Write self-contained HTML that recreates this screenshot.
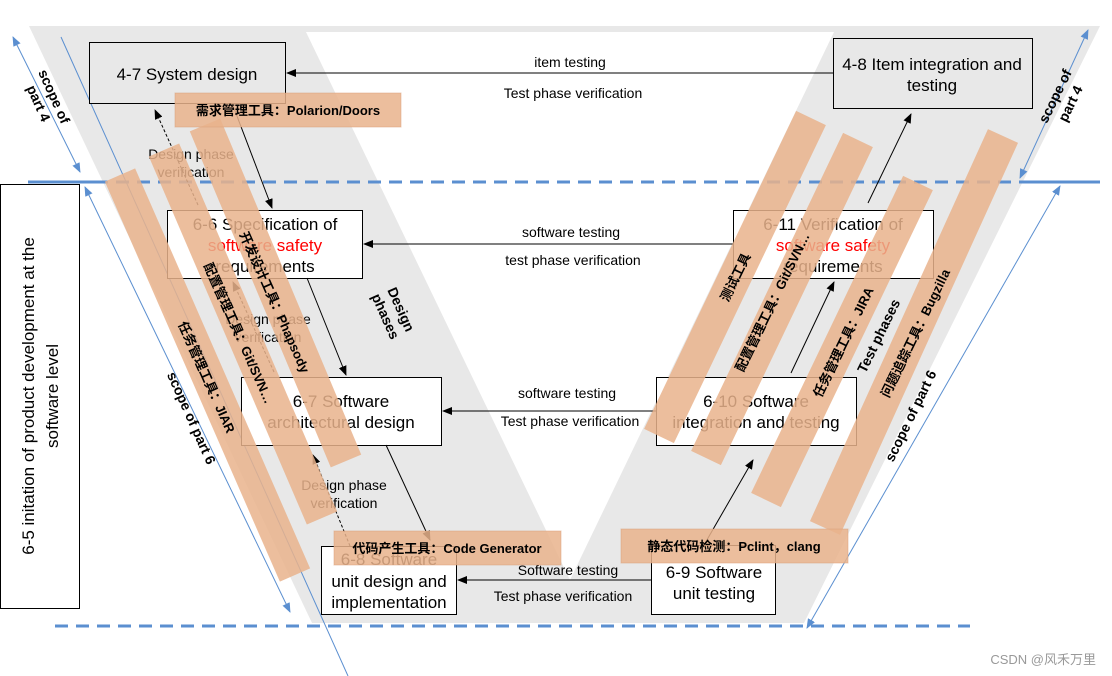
<!DOCTYPE html>
<html><head><meta charset="utf-8"><style>
html,body{margin:0;padding:0;background:#fff;width:1112px;height:676px;overflow:hidden}
svg{display:block;font-family:"Liberation Sans","Noto Sans CJK SC",sans-serif}
</style></head><body>
<svg width="1112" height="676" viewBox="0 0 1112 676" xmlns="http://www.w3.org/2000/svg">
<defs>
<marker id="ah" markerWidth="10" markerHeight="8" refX="9" refY="4" orient="auto" markerUnits="userSpaceOnUse"><path d="M0,0 L10,4 L0,8 z" fill="#000"/></marker>
<marker id="bh" markerWidth="10" markerHeight="8" refX="9" refY="4" orient="auto" markerUnits="userSpaceOnUse"><path d="M0,0 L10,4 L0,8 z" fill="#5b8fd0"/></marker>
<marker id="bs" markerWidth="10" markerHeight="8" refX="1" refY="4" orient="auto" markerUnits="userSpaceOnUse"><path d="M10,0 L0,4 L10,8 z" fill="#5b8fd0"/></marker>
</defs>
<path d="M29,26 L1100,26 L804,623 L312,623 Z M306,32 L834,32 L570,580 Z" fill="#e8e8e8" fill-rule="evenodd"/>
<line x1="28" y1="182" x2="95" y2="182" stroke="#5b8fd0" stroke-width="3"/>
<line x1="95" y1="182" x2="1020" y2="182" stroke="#5b8fd0" stroke-width="3" stroke-dasharray="13,8"/>
<line x1="1020" y1="182" x2="1100" y2="182" stroke="#5b8fd0" stroke-width="3"/>
<line x1="55" y1="626" x2="970" y2="626" stroke="#5b8fd0" stroke-width="3" stroke-dasharray="13,8"/>
<line x1="13" y1="37" x2="80" y2="172" stroke="#5b8fd0" stroke-width="1" marker-start="url(#bs)" marker-end="url(#bh)"/>
<line x1="61" y1="37" x2="348" y2="676" stroke="#5b8fd0" stroke-width="1"/>
<line x1="85" y1="187" x2="290" y2="612" stroke="#5b8fd0" stroke-width="1" marker-start="url(#bs)" marker-end="url(#bh)"/>
<line x1="1020" y1="178" x2="1088" y2="30" stroke="#5b8fd0" stroke-width="1" marker-start="url(#bs)" marker-end="url(#bh)"/>
<line x1="807" y1="628" x2="1060" y2="186" stroke="#5b8fd0" stroke-width="1" marker-start="url(#bs)" marker-end="url(#bh)"/>
<g fill="#fff" stroke="#000" stroke-width="1">
<rect x="89.5" y="42.5" width="196" height="61" fill="#e8e8e8"/>
<rect x="833.5" y="38.5" width="199" height="70" fill="#e8e8e8"/>
<rect x="167.5" y="210.5" width="195" height="68"/>
<rect x="733.5" y="210.5" width="200" height="68"/>
<rect x="241.5" y="377.5" width="200" height="68"/>
<rect x="656.5" y="377.5" width="200" height="68"/>
<rect x="321.5" y="546.5" width="135" height="68"/>
<rect x="651.5" y="545.5" width="124" height="69"/>
<rect x="0.5" y="184.5" width="79" height="424"/>
</g>
<g stroke="#000" stroke-width="1" fill="none">
<line x1="833" y1="73" x2="287" y2="73" marker-end="url(#ah)"/>
<line x1="733" y1="244" x2="364" y2="244" marker-end="url(#ah)"/>
<line x1="656" y1="411" x2="443" y2="411" marker-end="url(#ah)"/>
<line x1="651" y1="580" x2="458" y2="580" marker-end="url(#ah)"/>
<line x1="232" y1="103" x2="272" y2="208" marker-end="url(#ah)"/>
<line x1="307" y1="278" x2="346" y2="375" marker-end="url(#ah)"/>
<line x1="386" y1="445" x2="430" y2="540" marker-end="url(#ah)"/>
<line x1="704" y1="545" x2="753" y2="460" marker-end="url(#ah)"/>
<line x1="791" y1="373" x2="834" y2="282" marker-end="url(#ah)"/>
<line x1="868" y1="203" x2="911" y2="114" marker-end="url(#ah)"/>
<line x1="198" y1="205" x2="155" y2="110" stroke-dasharray="3,2" marker-end="url(#ah)"/>
<line x1="274" y1="372" x2="233" y2="282" stroke-dasharray="3,2" marker-end="url(#ah)"/>
<line x1="350" y1="546" x2="313" y2="455" stroke-dasharray="3,2" marker-end="url(#ah)"/>
</g>
<g font-size="17" fill="#000" text-anchor="middle">
<text x="187" y="80">4-7 System design</text>
<text x="932" y="70">4-8 Item integration and</text>
<text x="932" y="91">testing</text>
<text x="265" y="230">6-6 Specification of</text>
<text x="265" y="251" fill="#ff0000">software safety</text>
<text x="265" y="272">requirements</text>
<text x="833" y="230">6-11 Verification of</text>
<text x="833" y="251" fill="#ff0000">software safety</text>
<text x="833" y="272">requirements</text>
<text x="341" y="407">6-7 Software</text>
<text x="341" y="428">architectural design</text>
<text x="756" y="407">6-10 Software</text>
<text x="756" y="428">integration and testing</text>
<text x="389" y="565">6-8  Software</text>
<text x="389" y="587">unit design and</text>
<text x="389" y="608">implementation</text>
<text x="714" y="578">6-9 Software</text>
<text x="714" y="599">unit testing</text>
<text transform="translate(34,396) rotate(-90)">6-5 initation of product development  at the</text>
<text transform="translate(58,396) rotate(-90)">software  level</text>
</g>
<g font-size="14" fill="#000" text-anchor="middle">
<text x="570" y="67">item testing</text>
<text x="573" y="98">Test phase verification</text>
<text x="571" y="237">software testing</text>
<text x="573" y="265">test phase verification</text>
<text x="567" y="398">software testing</text>
<text x="570" y="426">Test phase verification</text>
<text x="568" y="575">Software testing</text>
<text x="563" y="601">Test phase verification</text>
<text x="191" y="159">Design phase</text>
<text x="191" y="177">verification</text>
<text x="268" y="324">Design phase</text>
<text x="268" y="342">verification</text>
<text x="344" y="490">Design phase</text>
<text x="344" y="508">verification</text>
</g>
<g font-size="14" font-weight="bold" fill="#000" text-anchor="middle">
<text transform="translate(393,313) rotate(66)"><tspan x="0" y="-4">Design</tspan><tspan x="0" y="13">phases</tspan></text>
<text transform="translate(883,338) rotate(-64)">Test phases</text>
<text transform="translate(46,100) rotate(66)"><tspan x="0" y="-4">scope of</tspan><tspan x="0" y="13">part 4</tspan></text>
<text transform="translate(1063,100) rotate(-64)"><tspan x="0" y="-4">scope of</tspan><tspan x="0" y="13">part 4</tspan></text>
<text transform="translate(187,420) rotate(66)">scope of  part 6</text>
<text transform="translate(915,418) rotate(-64)">scope of part 6</text>
</g>
<g stroke="#e9b38c" stroke-opacity="0.85" stroke-width="33">
<line x1="120" y1="175" x2="295" y2="575"/>
<line x1="164" y1="150" x2="322" y2="518"/>
<line x1="205" y1="125" x2="346" y2="461"/>
<line x1="811" y1="118" x2="659" y2="436"/>
<line x1="858" y1="140" x2="706" y2="458"/>
<line x1="918" y1="183" x2="766" y2="500"/>
<line x1="1003" y1="136" x2="825" y2="528"/>
</g>
<g fill="#e9b38c" fill-opacity="0.85" stroke="#d9a07a" stroke-opacity="0.5">
<rect x="175" y="93" width="226" height="34"/>
<rect x="334" y="531" width="227" height="34"/>
<rect x="621" y="529" width="227" height="34"/>
</g>
<g font-size="13" font-weight="bold" fill="#000" text-anchor="middle">
<text x="288" y="115">需求管理工具：Polarion/Doors</text>
<text x="447" y="553">代码产生工具：Code Generator</text>
<text x="734" y="551">静态代码检测：Pclint，clang</text>
<text transform="translate(207,377) rotate(66)" dy="5">任务管理工具：JIAR</text>
<text transform="translate(239,333) rotate(66)" dy="5">配置管理工具：Git/SVN…</text>
<text transform="translate(275,302) rotate(66)" dy="5">开发设计工具：Phapsody</text>
<text transform="translate(735,277) rotate(-64)" dy="5">测试工具</text>
<text transform="translate(772,302) rotate(-64)" dy="5">配置管理工具：Git/SVN…</text>
<text transform="translate(843,342) rotate(-64)" dy="5">任务管理工具：JIRA</text>
<text transform="translate(915,333) rotate(-64)" dy="5">问题追踪工具：Bugzilla</text>
</g>
<text x="1096" y="664" font-size="13" fill="#999" text-anchor="end">CSDN @风禾万里</text>
</svg>
</body></html>
